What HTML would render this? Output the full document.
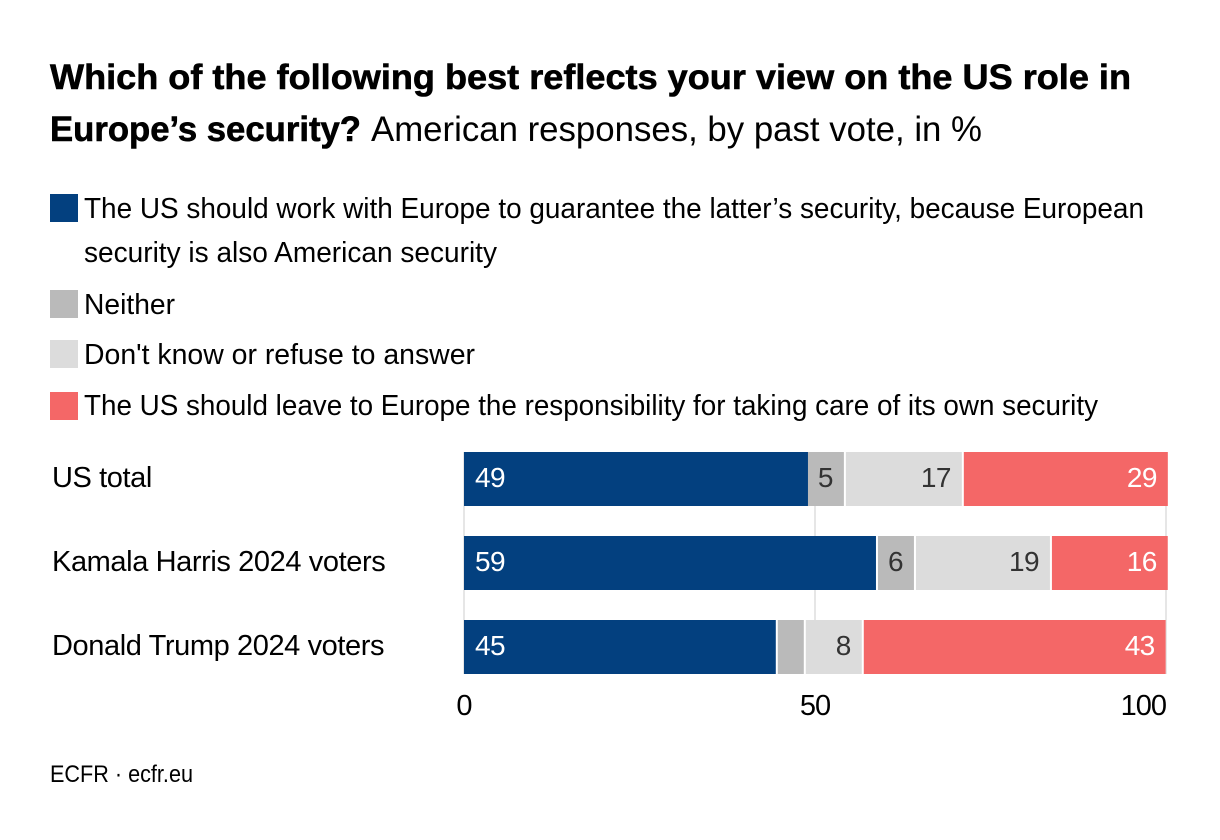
<!DOCTYPE html>
<html lang="en">
<head>
<meta charset="utf-8">
<title>US role in Europe's security</title>
<style>
  html, body { margin: 0; padding: 0; background: #fff; }
  svg { display: block; }
  text { font-family: "Liberation Sans", sans-serif; fill: #000; }
  .title { font-size: 35px; font-weight: 700; stroke: #000; stroke-width: 0.6px; }
  .sub { font-size: 35px; font-weight: 400; }
  .legend { font-size: 29px; }
  .cat { font-size: 29px; letter-spacing: -0.4px; }
  .tick { font-size: 29px; letter-spacing: -1px; }
  .val { font-size: 28px; letter-spacing: -0.6px; }
  .foot { font-size: 24px; }
</style>
</head>
<body>
<svg id="chart" width="1220" height="840" viewBox="0 0 1220 840" xmlns="http://www.w3.org/2000/svg">
  <rect width="1220" height="840" fill="#fff"/>

  <text class="title" x="50" y="89" textLength="1081" lengthAdjust="spacingAndGlyphs">Which of the following best reflects your view on the US role in</text>
  <text class="title" x="50" y="141" textLength="311" lengthAdjust="spacingAndGlyphs">Europe’s security?</text>
  <text class="sub" x="371" y="141" textLength="611" lengthAdjust="spacingAndGlyphs">American responses, by past vote, in %</text>

  <g>
    <rect x="50" y="194" width="28" height="28" fill="#03407f"/>
    <text class="legend" x="84" y="218" textLength="1060" lengthAdjust="spacingAndGlyphs">The US should work with Europe to guarantee the latter’s security, because European</text>
    <text class="legend" x="84" y="262" textLength="413" lengthAdjust="spacingAndGlyphs">security is also American security</text>
    <rect x="50" y="290" width="28" height="28" fill="#bababa"/>
    <text class="legend" x="84" y="314" textLength="91" lengthAdjust="spacingAndGlyphs">Neither</text>
    <rect x="50" y="340" width="28" height="28" fill="#dcdcdc"/>
    <text class="legend" x="84" y="364" textLength="391" lengthAdjust="spacingAndGlyphs">Don't know or refuse to answer</text>
    <rect x="50" y="392" width="28" height="28" fill="#f46767"/>
    <text class="legend" x="84" y="415" textLength="1014" lengthAdjust="spacingAndGlyphs">The US should leave to Europe the responsibility for taking care of its own security</text>
  </g>

  <g id="grid"></g>
  <g id="bars"></g>
  <g id="cats"></g>
  <g id="ticks"></g>

  <text class="foot" x="50" y="782" textLength="143" lengthAdjust="spacingAndGlyphs">ECFR · ecfr.eu</text>
</svg>

<script>
const categories = ['US total', 'Kamala Harris 2024 voters', 'Donald Trump 2024 voters'];
const seriesWork = [49.0, 58.97, 44.7];
const seriesNeither = [5.4, 5.41, 3.99];
const seriesDontKnow = [16.8, 19.37, 8.26];
const seriesLeave = [29.06, 16.5, 43.0];
const printedWork = [49, 59, 45];
const printedNeither = [5, 6, null];
const printedDontKnow = [17, 19, 8];
const printedLeave = [29, 16, 43];
const tickValues = [0, 50, 100];
const tickLabels = ['0', '50', '100'];

const NS = 'http://www.w3.org/2000/svg';
const xScale = v => 464 + v * 7.02;
const yScale = i => 452 + i * 84;
const barHeight = 54;
const gapWidth = 2;

const stack = [
  { key: 'work', values: seriesWork, printed: printedWork, fill: '#03407f', text: '#fff', align: 'start' },
  { key: 'neither', values: seriesNeither, printed: printedNeither, fill: '#bababa', text: '#333', align: 'end' },
  { key: 'dont-know', values: seriesDontKnow, printed: printedDontKnow, fill: '#dcdcdc', text: '#333', align: 'end' },
  { key: 'leave', values: seriesLeave, printed: printedLeave, fill: '#f46767', text: '#fff', align: 'end' }
];

const gridLayer = document.getElementById('grid');
const barLayer = document.getElementById('bars');
const catLayer = document.getElementById('cats');
const tickLayer = document.getElementById('ticks');

tickValues.forEach((t, i) => {
  const line = document.createElementNS(NS, 'line');
  
  
  line.setAttribute('x1', xScale(t));
  line.setAttribute('x2', xScale(t));
  line.setAttribute('y1', yScale(0));
  line.setAttribute('y2', yScale(categories.length - 1) + barHeight);
  line.setAttribute('stroke', '#e6e6e6');
  line.setAttribute('stroke-width', '2');
  gridLayer.appendChild(line);

  const label = document.createElementNS(NS, 'text');
  
  
  label.setAttribute('class', 'tick');
  label.setAttribute('x', xScale(t));
  label.setAttribute('y', 715);
  label.setAttribute('text-anchor', i === tickValues.length - 1 ? 'end' : 'middle');
  label.textContent = tickLabels[i];
  tickLayer.appendChild(label);
});

categories.forEach((cat, r) => {
  const catLabel = document.createElementNS(NS, 'text');
  
  
  catLabel.setAttribute('class', 'cat');
  catLabel.setAttribute('x', 52);
  catLabel.setAttribute('y', yScale(r) + 35);
  catLabel.textContent = cat;
  catLayer.appendChild(catLabel);

  let cum = 0;
  stack.forEach((s, k) => {
    const v = s.values[r];
    const x0 = xScale(cum);
    const x1 = xScale(cum + v);
    cum += v;
    const isLast = k === stack.length - 1;
    const noGap = isLast || (r === 0 && k === 0);
    const right = noGap ? x1 : x1 - gapWidth;

    const bar = document.createElementNS(NS, 'rect');
    
    
    bar.setAttribute('x', x0);
    bar.setAttribute('y', yScale(r));
    bar.setAttribute('width', Math.max(0, right - x0));
    bar.setAttribute('height', barHeight);
    bar.setAttribute('fill', s.fill);
    barLayer.appendChild(bar);

    if (s.printed[r] !== null) {
      const val = document.createElementNS(NS, 'text');
      
      
      val.setAttribute('class', 'val');
      val.setAttribute('x', s.align === 'start' ? x0 + 11 : right - 11);
      val.setAttribute('y', yScale(r) + 35);
      val.setAttribute('text-anchor', s.align);
      val.style.fill = s.text;
      val.textContent = s.printed[r];
      barLayer.appendChild(val);
    }
  });
});
</script>
</body>
</html>
